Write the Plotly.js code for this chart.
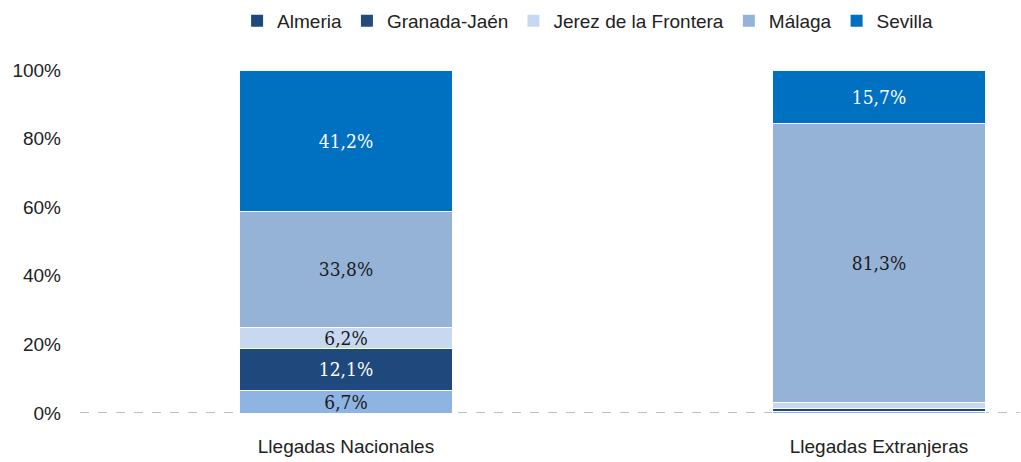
<!DOCTYPE html>
<html>
<head>
<meta charset="utf-8">
<script src="https://cdn.plot.ly/plotly-3.0.1.min.js"></script>
<style>html,body{margin:0;padding:0;background:#fff;}#chart{width:1021px;height:462px;}</style>
</head>
<body>
<div id="chart"></div>
<script>
const categories = ["Llegadas Nacionales", "Llegadas Extranjeras"];
const seriesNames = ["Almeria", "Granada-Jaén", "Jerez de la Frontera", "Málaga", "Sevilla"];
const almeria = [0.067, 0.003];
const granada = [0.121, 0.009];
const jerez = [0.062, 0.018];
const malaga = [0.338, 0.813];
const sevilla = [0.412, 0.157];
const labelsAlmeria = ["6,7%", ""];
const labelsGranada = ["12,1%", ""];
const labelsJerez = ["6,2%", ""];
const labelsMalaga = ["33,8%", "81,3%"];
const labelsSevilla = ["41,2%", "15,7%"];

const barColors = ["#8DB4E2", "#1F497D", "#C6D9F1", "#95B3D7", "#0070C0"];
const legendColors = ["#1F497D", "#254B7B", "#C6D9F1", "#95B3D7", "#0070C0"];
const textColors = ["#1a1a1a", "#ffffff", "#1a1a1a", "#1a1a1a", "#ffffff"];

const values = [almeria, granada, jerez, malaga, sevilla];
const labels = [labelsAlmeria, labelsGranada, labelsJerez, labelsMalaga, labelsSevilla];
const xpos = [0, 1];

const traces = [];
values.forEach((v, i) => {
  traces.push({
    type: "bar", x: xpos, y: v, name: seriesNames[i], showlegend: false,
    width: 0.398,
    marker: {color: barColors[i], line: {color: "#ffffff", width: 1}},
    text: labels[i], textposition: "inside", insidetextanchor: "middle",
    textfont: {family: "DejaVu Serif Condensed, DejaVu Serif, serif", size: 19, color: textColors[i]},
    hoverinfo: "skip", constraintext: "none"
  });
});
seriesNames.forEach((n, i) => {
  traces.push({
    type: "bar", x: [0], y: [null], name: n, showlegend: true,
    marker: {color: legendColors[i]}, hoverinfo: "skip"
  });
});

const layout = {
  width: 1021, height: 462,
  margin: {l: 80, r: 1, t: 70, b: 49},
  barmode: "stack",
  bargap: 0,
  paper_bgcolor: "#ffffff", plot_bgcolor: "#ffffff",
  font: {family: "Liberation Sans, Arial, sans-serif", size: 19, color: "#222"},
  showlegend: true,
  legend: {orientation: "h", x: 0.54, xanchor: "center", yref: "container", y: 0.955, yanchor: "middle",
           font: {size: 19, color: "#222"}, itemwidth: 30, traceorder: "normal", tracegroupgap: 0},
  xaxis: {range: [-0.499, 1.2645], tickvals: xpos, ticktext: categories, showgrid: false,
          zeroline: false, showline: false, ticks: "", ticklen: 0, fixedrange: true,
          ticklabelstandoff: 20, automargin: false},
  yaxis: {range: [0, 1], tickvals: [0, 0.2, 0.4, 0.6, 0.8, 1], ticktext: ["0%", "20%", "40%", "60%", "80%", "100%"],
          showgrid: false, zeroline: false, showline: false, ticks: "", ticklabelstandoff: 18, automargin: false},
  shapes: [{type: "line", xref: "paper", yref: "y", x0: 0, x1: 1, y0: 0, y1: 0,
            line: {color: "#aaaaaa", width: 1.5, dash: "dash"}, layer: "below"}]
};

Plotly.newPlot("chart", traces, layout, {displayModeBar: false, staticPlot: true});
</script>
</body>
</html>
